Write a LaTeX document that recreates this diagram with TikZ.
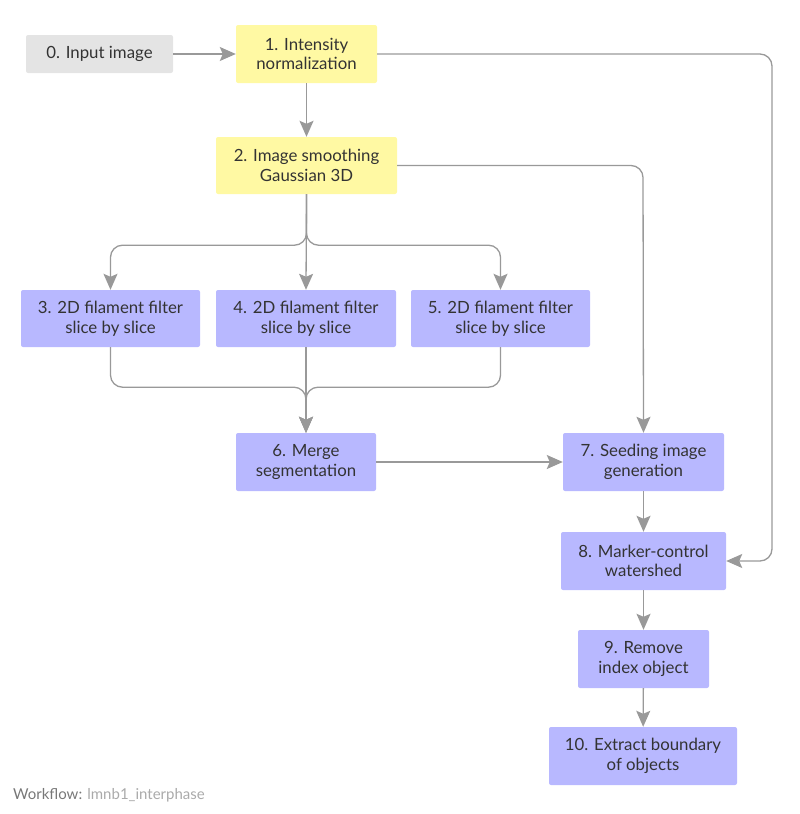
\documentclass[tikz,border=0pt]{standalone}
\usepackage{fontspec}
\setmainfont{Lato}
\usetikzlibrary{arrows.meta,calc}
\definecolor{ygr}{HTML}{FFF9A3}
\definecolor{pur}{HTML}{B8B8FF}
\definecolor{gry}{HTML}{E4E4E4}
\definecolor{lin}{HTML}{999999}
\definecolor{txt}{HTML}{333333}
\tikzset{
  box/.style={rounded corners=2pt, align=center, text=txt, font=\fontsize{16.8}{19.5}\selectfont, inner sep=0pt},
  inbox/.style={box, fill=gry},
  ybox/.style={box, fill=ygr},
  pbox/.style={box, fill=pur},
  conn/.style={draw=lin, line width=1.3pt, -{Stealth[length=16pt,width=14pt,inset=3pt]}, rounded corners=12pt},
}
\begin{document}
\begin{tikzpicture}[x=1pt,y=-1pt]
\useasboundingbox (0,0) rectangle (800,814);
\node[inbox, minimum width=147pt, minimum height=38pt] (n0) at (99.5,54) {0. Input image};
\node[ybox, minimum width=141pt, minimum height=58pt] (n1) at (306.5,54) {1. Intensity\\normalization};
\node[ybox, minimum width=181pt, minimum height=57pt] (n2) at (306.5,165.5) {2. Image smoothing\\Gaussian 3D};
\node[pbox, minimum width=179pt, minimum height=57pt] (n3) at (110.5,318.5) {3. 2D filament filter\\slice by slice};
\node[pbox, minimum width=180pt, minimum height=57pt] (n4) at (306,318.5) {4. 2D filament filter\\slice by slice};
\node[pbox, minimum width=179pt, minimum height=57pt] (n5) at (500.5,318.5) {5. 2D filament filter\\slice by slice};
\node[pbox, minimum width=140pt, minimum height=58pt] (n6) at (306,462) {6. Merge\\segmentation};
\node[pbox, minimum width=161pt, minimum height=58pt] (n7) at (643.5,462) {7. Seeding image\\generation};
\node[pbox, minimum width=165pt, minimum height=58pt] (n8) at (643.5,561) {8. Marker-control\\watershed};
\node[pbox, minimum width=131pt, minimum height=58pt] (n9) at (643.5,659) {9. Remove\\index object};
\node[pbox, minimum width=188pt, minimum height=58pt] (n10) at (643,756) {10. Extract boundary\\of objects};
\node[anchor=west, inner sep=0pt, font=\fontsize{15}{18}\selectfont] (ft) at (13,795) {\textcolor[HTML]{777777}{Workflow:} \textcolor[HTML]{AAAAAA}{lmnb1\_interphase}};
\coordinate (r1) at (772,54);
\coordinate (r2) at (772,561);
\coordinate (s2) at (643,165.5);
\draw[conn] (n0) -- (n1);
\draw[conn] (n1) -- (n2);
\draw[conn] (n1.east) -- (r1) -- (r2) -- (n8.east);
\draw[conn] (n2.east) -- (s2) -- (n7.north);
\draw[conn] (n2.south) -- ++(0,51) -| (n3.north);
\draw[conn] (n2.south) -- ++(0,51) -| (n5.north);
\draw[conn] (n2.south) -- (n4.north);
\draw[conn] (n3.south) -- ++(0,40) -| (n6.north);
\draw[conn] (n5.south) -- ++(0,40) -| (n6.north);
\draw[conn] (n4.south) -- (n6.north);
\draw[conn] (n6) -- (n7);
\draw[conn] (n7) -- (n8);
\draw[conn] (n8) -- (n9);
\draw[conn] (n9) -- (n10);
\end{tikzpicture}
\end{document}
